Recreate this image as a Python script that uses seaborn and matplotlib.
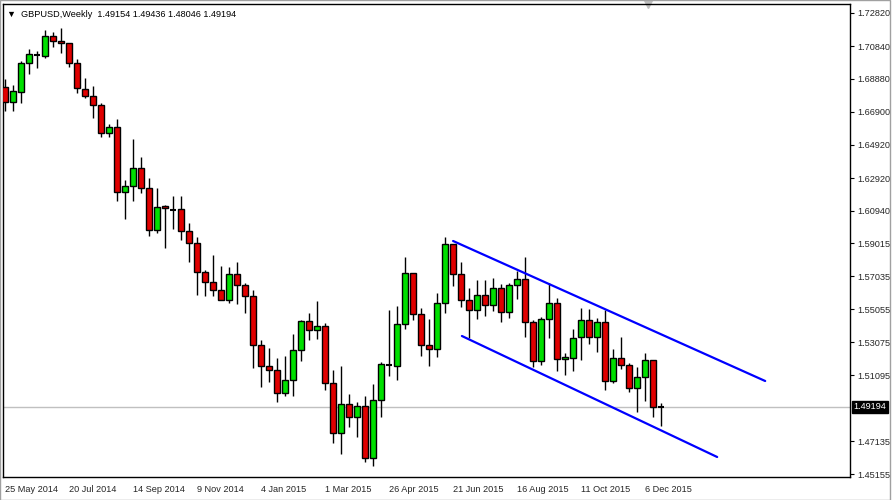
import matplotlib
matplotlib.use("Agg")
import matplotlib.pyplot as plt
import seaborn as sns
import pandas as pd

opens = [1.6840,1.6746,1.6810,1.6980,1.7032,1.7026,1.7142,1.7114,1.7100,1.6980,1.6824,1.6782,1.6728,1.6560,1.6596,1.6206,1.6242,1.6350,1.6230,1.5978,1.6122,1.6104,1.6104,1.5972,1.5900,1.5726,1.5666,1.5618,1.5558,1.5714,1.5648,1.5582,1.5288,1.5162,1.5138,1.5000,1.5078,1.5258,1.5434,1.5378,1.5402,1.5060,1.4760,1.4934,1.4856,1.4922,1.4610,1.4958,1.5166,1.5162,1.5414,1.5720,1.5474,1.5288,1.5264,1.5540,1.5894,1.5714,1.5558,1.5498,1.5588,1.5528,1.5630,1.5486,1.5648,1.5684,1.5426,1.5192,1.5444,1.5540,1.5204,1.5210,1.5336,1.5438,1.5336,1.5426,1.5074,1.5210,1.5168,1.5030,1.5096,1.5198,1.49154]
highs = [1.6886,1.6850,1.6994,1.7066,1.7056,1.7180,1.7166,1.7194,1.7100,1.7004,1.6890,1.6844,1.6740,1.6616,1.6646,1.6280,1.6526,1.6418,1.6290,1.6232,1.6128,1.6184,1.6184,1.6022,1.5940,1.5740,1.5830,1.5764,1.5756,1.5786,1.5664,1.5620,1.5320,1.5272,1.5212,1.5224,1.5356,1.5440,1.5482,1.5554,1.5422,1.5140,1.5164,1.4996,1.4948,1.4984,1.5056,1.5188,1.5500,1.5524,1.5820,1.5720,1.5510,1.5446,1.5600,1.5936,1.5894,1.5786,1.5630,1.5678,1.5678,1.5694,1.5654,1.5660,1.5732,1.5820,1.5440,1.5456,1.5660,1.5570,1.5244,1.5388,1.5510,1.5506,1.5450,1.5500,1.5266,1.5338,1.5180,1.5156,1.5242,1.5198,1.49436]
lows = [1.6696,1.6696,1.6740,1.6914,1.6954,1.7010,1.7080,1.7040,1.6960,1.6804,1.6770,1.6654,1.6536,1.6536,1.6156,1.6046,1.6156,1.6204,1.5946,1.5960,1.5874,1.5986,1.5920,1.5790,1.5590,1.5586,1.5584,1.5558,1.5540,1.5534,1.5484,1.5154,1.5036,1.5070,1.4950,1.4986,1.4986,1.5196,1.5318,1.5324,1.5022,1.4700,1.4634,1.4796,1.4736,1.4586,1.4562,1.4856,1.5106,1.5082,1.5388,1.5442,1.5226,1.5166,1.5220,1.5484,1.5646,1.5520,1.5330,1.5444,1.5466,1.5492,1.5426,1.5454,1.5564,1.5336,1.5156,1.5168,1.5330,1.5132,1.5108,1.5132,1.5198,1.5298,1.5246,1.5022,1.5060,1.5148,1.5010,1.4890,1.4956,1.4860,1.48046]
closes = [1.6750,1.6814,1.6980,1.7034,1.7030,1.7142,1.7112,1.7100,1.6980,1.6830,1.6782,1.6728,1.6560,1.6596,1.6206,1.6242,1.6350,1.6230,1.5978,1.6116,1.6110,1.6102,1.5972,1.5900,1.5726,1.5666,1.5618,1.5558,1.5714,1.5648,1.5582,1.5288,1.5162,1.5138,1.5000,1.5078,1.5258,1.5434,1.5378,1.5402,1.5060,1.4760,1.4934,1.4856,1.4922,1.4610,1.4958,1.5174,1.5168,1.5414,1.5720,1.5474,1.5288,1.5264,1.5540,1.5894,1.5714,1.5558,1.5500,1.5588,1.5528,1.5630,1.5486,1.5648,1.5684,1.5426,1.5192,1.5444,1.5540,1.5204,1.5216,1.5330,1.5438,1.5336,1.5426,1.5074,1.5210,1.5168,1.5030,1.5096,1.5198,1.49154,1.49194]

date_labels = ["25 May 2014","20 Jul 2014","14 Sep 2014","9 Nov 2014","4 Jan 2015","1 Mar 2015",
               "26 Apr 2015","21 Jun 2015","16 Aug 2015","11 Oct 2015","6 Dec 2015"]
date_idx = [0,8,16,24,32,40,48,56,64,72,80]
price_ticks = [1.72820,1.70840,1.68880,1.66900,1.64920,1.62920,1.60940,1.59015,1.57035,
               1.55055,1.53075,1.51095,1.47135,1.45155]
last_price = 1.49194
upper_x = [56, 95]; upper_y = [1.5914, 1.5074]
lower_x = [57.1, 89]; lower_y = [1.5344, 1.4618]

sns.set_style("white")
plt.rcParams['font.family'] = ['Liberation Sans', 'DejaVu Sans']
FS = 6.6
fig = plt.figure(figsize=(8.95, 5.0), dpi=100)
ax = fig.add_axes([3/895, 23/500, 847/895, 473/500])

df = pd.DataFrame({"o": opens, "h": highs, "l": lows, "c": closes})
df["i"] = range(len(df))
for r in df.itertuples():
    up = r.c >= r.o
    ax.vlines(r.i, r.l, r.h, color="black", lw=1, zorder=2)
    lo, hi = min(r.o, r.c), max(r.o, r.c)
    if hi - lo < 0.0004:
        ax.hlines(r.c, r.i - 0.35, r.i + 0.35, color="black", lw=1.5, zorder=3)
    else:
        ax.bar(r.i, hi - lo, bottom=lo, width=0.68, color="#00e000" if up else "#e00000",
               edgecolor="black", lw=1, zorder=3)

ax.axhline(last_price, color="#c0c0c0", lw=1, zorder=1)
sns.lineplot(x=upper_x, y=upper_y, ax=ax, color="#0000ff", lw=1.6, zorder=4)
sns.lineplot(x=lower_x, y=lower_y, ax=ax, color="#0000ff", lw=1.6, zorder=4)

ax.set_xlim(-0.25, 105.6)
ax.set_ylim(1.4498, 1.7336)
ax.yaxis.tick_right()
ax.set_yticks(price_ticks)
ax.set_yticklabels([f"{p:.5f}" for p in price_ticks], fontsize=FS)
ax.set_xticks(date_idx)
ax.set_xticklabels(date_labels, fontsize=FS, ha="left")
ax.tick_params(axis="both", length=3, direction="out", color="black", pad=2)
ax.tick_params(axis="x", pad=3)
for s in ax.spines.values():
    s.set_color("black"); s.set_linewidth(1)
ax.text(1.004, (last_price - 1.4498) / (1.7336 - 1.4498), f"{last_price:.5f}", transform=ax.transAxes,
        fontsize=FS, color="white", va="center", ha="left",
        bbox=dict(boxstyle="square,pad=0.15", fc="black", ec="black"))
ax.text(0.005, 0.987, "▼  GBPUSD,Weekly  1.49154 1.49436 1.48046 1.49194", transform=ax.transAxes,
        fontsize=FS, va="top", ha="left", color="black", family=['DejaVu Sans'] if False else None)
ax.plot([80.4], [1.7336], marker="v", color="#c0c0c0", ms=6, clip_on=False)
fig.patches.append(plt.Rectangle((0, 0), 890/895, 1, transform=fig.transFigure, fill=False,
                                 ec="#a0a0a0", lw=1))
fig.savefig("out.png", dpi=100)
